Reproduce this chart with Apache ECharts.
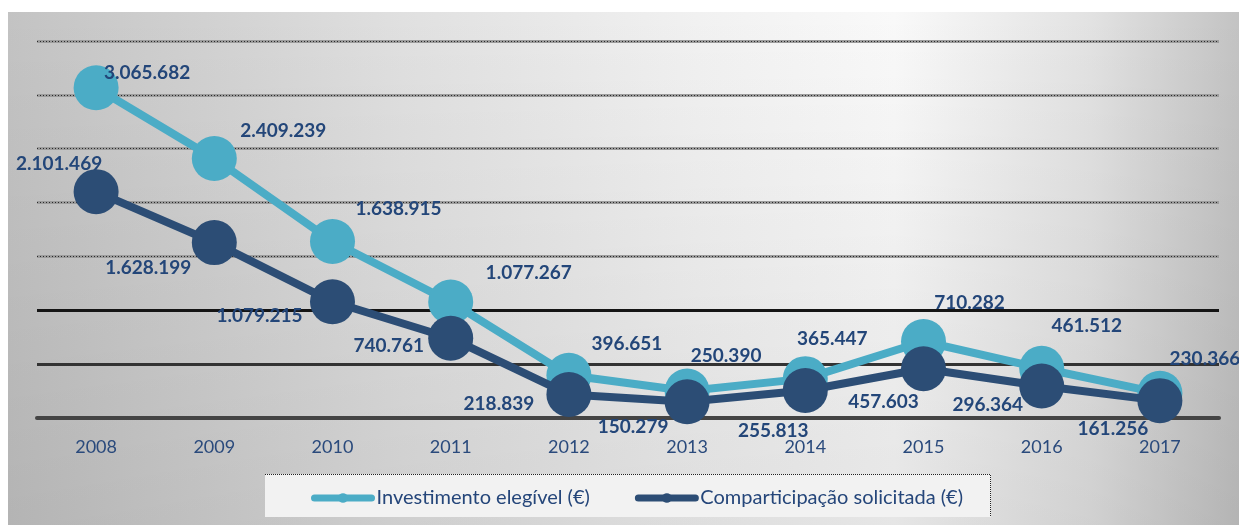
<!DOCTYPE html>
<html>
<head>
<meta charset="utf-8">
<script src="https://cdn.jsdelivr.net/npm/echarts@6/dist/echarts.min.js"></script>
<style>
html,body{margin:0;padding:0;background:#fff;}
#c{width:1239px;height:525px;}
</style>
</head>
<body>
<div id="c"></div>
<script>
// ---- data ----
const categories = ['2008','2009','2010','2011','2012','2013','2014','2015','2016','2017'];
const investimento = [3065682, 2409239, 1638915, 1077267, 396651, 250390, 365447, 710282, 461512, 230366];
const comparticipacao = [2101469, 1628199, 1079215, 740761, 218839, 150279, 255813, 457603, 296364, 161256];
const seriesNames = ['Investimento elegível (€)', 'Comparticipação solicitada (€)'];

// ---- label placement (style only) ----
const investLabelOffsets = [[51,-15],[69,-28],[66,-33],[78,-29],[58,-31],[39,-35],[27,-40],[46,-39],[45,-42],[45,-34]];
const compLabelOffsets = [[-37,-28],[-66,25],[-73,14],[-62,8],[-70,9],[-54,25],[-32,40],[-40,33],[-54,19],[-47,28]];

function fmt(v){
  return String(v).replace(/\B(?=(\d{3})+(?!\d))/g, '.');
}

const chart = echarts.init(document.getElementById('c'), null, {renderer:'canvas'});
const FONT = 'Lato';
const labelColor = '#234679';

function buildData(values, offsets){
  return values.map((v,i)=>({value:v, label:{offset:offsets[i]}}));
}

const gridColors = ['rgba(0,0,0,0)','#333333','#151515','#9c9c9c','#9c9c9c','#9c9c9c','#9c9c9c','#9c9c9c'];
const dotColors = ['rgba(0,0,0,0)','rgba(0,0,0,0)','rgba(0,0,0,0)','#2a2a2a','#2a2a2a','#2a2a2a','#2a2a2a','#2a2a2a'];

const option = {
  animation:false,
  textStyle:{fontFamily:FONT},
  graphic:[
    {type:'rect', z:-10, silent:true, left:8, top:12, shape:{width:1231, height:513},
      style:{fill:new echarts.graphic.LinearGradient(0,0,1,0,[
        {offset:0, color:'#c3c3c3'},
        {offset:0.16, color:'#d1d1d1'},
        {offset:0.32, color:'#e0e0e0'},
        {offset:0.56, color:'#f1f1f1'},
        {offset:0.72, color:'#f9f9f9'},
        {offset:0.88, color:'#e2e2e2'},
        {offset:1, color:'#c3c3c3'}
      ])}},
    {type:'rect', z:-9, silent:true, left:8, top:12, shape:{width:1231, height:513},
      style:{fill:new echarts.graphic.LinearGradient(0,0,0,1,[
        {offset:0, color:'rgba(0,0,0,0)'},
        {offset:1, color:'rgba(0,0,0,0.08)'}
      ])}},
    {type:'rect', z:-8, silent:true, left:265, top:474, shape:{width:726, height:43},
      style:{fill:'#f2f2f2'}},
    {type:'polyline', z:-7, silent:true, shape:{points:[[265,474.5],[990.5,474.5],[990.5,517]]},
      style:{stroke:'#222', lineWidth:1, lineDash:[1,1], fill:null}}
  ],
  grid:{left:37, right:20, top:41, bottom:107, containLabel:false},
  xAxis:{
    type:'category', data:categories, boundaryGap:true,
    axisLine:{show:true, lineStyle:{color:'#444444', width:4}},
    axisTick:{show:false},
    axisLabel:{color:'#2A4A7C', fontSize:18, fontFamily:FONT, margin:20}
  },
  yAxis:[
    {type:'value', min:0, max:3500000, interval:500000,
      axisLine:{show:false}, axisTick:{show:false}, axisLabel:{show:false},
      splitLine:{show:true, lineStyle:{color:gridColors, width:3, type:'solid'}}},
    {type:'value', min:0, max:3500000, interval:500000, position:'left',
      axisLine:{show:false}, axisTick:{show:false}, axisLabel:{show:false},
      splitLine:{show:true, lineStyle:{color:dotColors, width:1, type:[1,2]}}}
  ],
  legend:{
    left:311, top:488, padding:0, itemWidth:57, itemHeight:12, itemGap:45,
    textStyle:{color:'#25467A', fontSize:20, fontFamily:FONT},
    lineStyle:{width:7, cap:'round'},
    data:seriesNames
  },
  series:[
    {name:seriesNames[0], type:'line', data:buildData(investimento, investLabelOffsets),
      symbol:'circle', symbolSize:45, showAllSymbol:true,
      lineStyle:{color:'#4BACC6', width:8},
      itemStyle:{color:'#4BACC6'},
      label:{show:true, position:'inside', formatter:p=>fmt(p.value), color:labelColor,
        fontSize:19, fontWeight:'bold', fontFamily:FONT},
      emphasis:{disabled:true}, z:2},
    {name:seriesNames[1], type:'line', data:buildData(comparticipacao, compLabelOffsets),
      symbol:'circle', symbolSize:45, showAllSymbol:true,
      lineStyle:{color:'#2C4D75', width:8},
      itemStyle:{color:'#2C4D75'},
      label:{show:true, position:'inside', formatter:p=>fmt(p.value), color:labelColor,
        fontSize:19, fontWeight:'bold', fontFamily:FONT},
      emphasis:{disabled:true}, z:3}
  ]
};
chart.setOption(option);
</script>
</body>
</html>
